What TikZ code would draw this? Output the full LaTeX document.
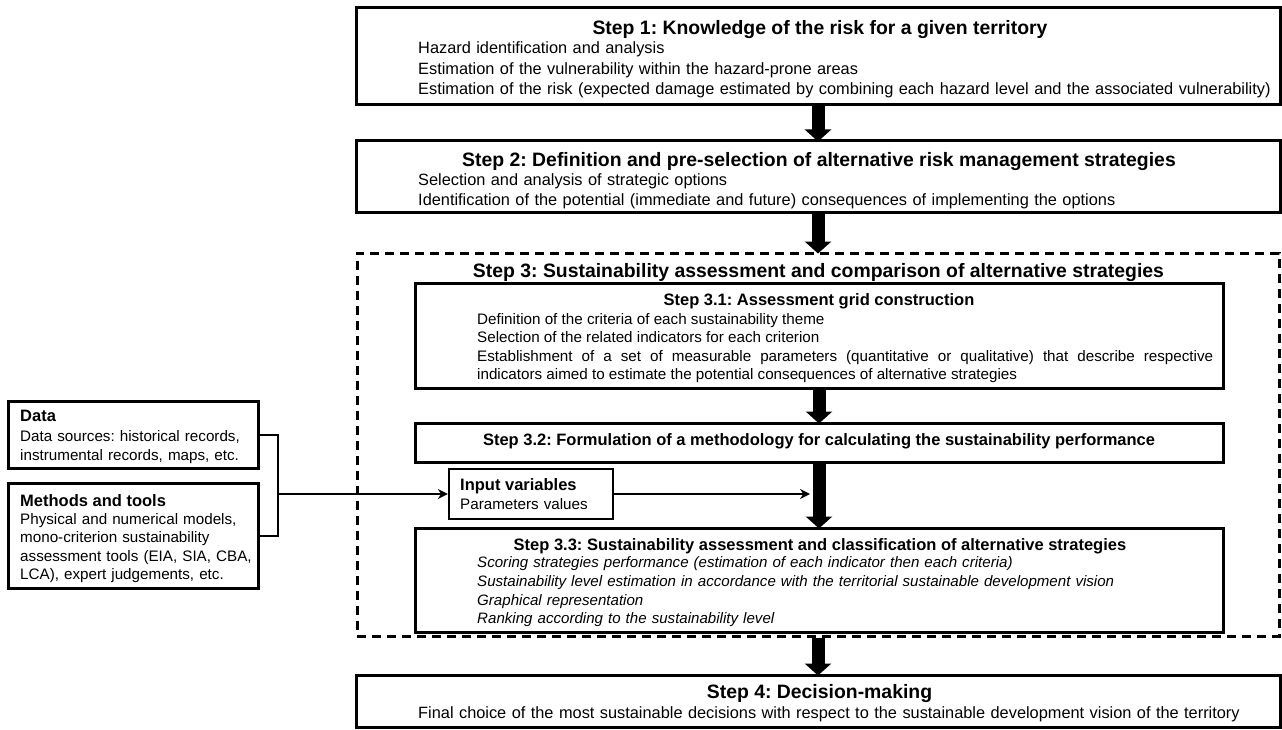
\documentclass[tikz,border=0pt]{standalone}
\usepackage{fontspec}
\setmainfont{Liberation Sans}
\usetikzlibrary{arrows.meta}
\frenchspacing

\begin{document}
\begin{tikzpicture}[x=1pt,y=-1pt]
\tikzstyle{box} = [draw,line width=3pt,inner sep=0pt]
\tikzstyle{dbox} = [draw,line width=3pt,dash pattern=on 9pt off 6pt,inner sep=0pt]
\tikzstyle{ibox} = [draw,line width=2.2pt,inner sep=0pt]
\tikzstyle{bigtitle} = [font=\fontsize{19.4}{23}\selectfont\bfseries,inner sep=0pt,anchor=base]
\tikzstyle{title} = [font=\fontsize{16.5}{20}\selectfont\bfseries,inner sep=0pt,anchor=base]
\tikzstyle{ltitle} = [font=\fontsize{16.5}{20}\selectfont\bfseries,inner sep=0pt,anchor=base west]
\tikzstyle{body} = [font=\fontsize{16.35}{20.5}\selectfont,align=left,anchor=base west,inner sep=0pt]
\tikzstyle{sbody} = [font=\fontsize{15.2}{18.5}\selectfont,align=left,anchor=base west,inner sep=0pt]
\tikzstyle{bigarrow} = [line width=13pt,-{Triangle[width=26pt,length=12pt]}]
\tikzstyle{link} = [line width=2pt,-{Stealth[length=10pt,width=10pt]}]

\useasboundingbox (0,0) rectangle (1282,730);

% main steps
\node[box,minimum width=924pt,minimum height=97pt] (s1) at (818,56.5) {};
\node[box,minimum width=924pt,minimum height=72pt] (s2) at (818,177) {};
\node[dbox,minimum width=922pt,minimum height=383pt] (s3) at (818,444.5) {};
\node[box,minimum width=808pt,minimum height=105pt] (s31) at (819,335.5) {};
\node[box,minimum width=808pt,minimum height=39pt] (s32) at (819,442.5) {};
\node[box,minimum width=808pt,minimum height=104pt] (s33) at (819,580) {};
\node[box,minimum width=924pt,minimum height=52pt] (s4) at (818,701) {};

\node[bigtitle] (t1) at (820,35) {Step 1: Knowledge of the risk for a given territory};
\node[body,text width=870pt] (b1) at (418,54) {Hazard identification and analysis\\
Estimation of the vulnerability within the hazard-prone areas\\
Estimation of the risk (expected damage estimated by combining each hazard level and the associated vulnerability)};

\node[bigtitle] (t2) at (819,166.5) {Step 2: Definition and pre-selection of alternative risk management strategies};
\node[body,text width=870pt] (b2) at (418,185.5) {Selection and analysis of strategic options\\
Identification of the potential (immediate and future) consequences of implementing the options};

\node[bigtitle] (t3) at (818.5,277) {Step 3: Sustainability assessment and comparison of alternative strategies};

\node[title] (t31) at (819,305) {Step 3.1: Assessment grid construction};
\node[sbody,text width=736pt,align=justify] (b31) at (477,324) {Definition of the criteria of each sustainability theme\\
Selection of the related indicators for each criterion\\
Establishment of a set of measurable parameters (quantitative or qualitative) that describe respective\linebreak
indicators aimed to estimate the potential consequences of alternative strategies};

\node[title] (t32) at (819,445) {Step 3.2: Formulation of a methodology for calculating the sustainability performance};

\node[title] (t33) at (820,550.5) {Step 3.3: Sustainability assessment and classification of alternative strategies};
\node[sbody,text width=740pt,font=\fontsize{15.1}{18.8}\selectfont\itshape] (b33) at (477,567.5) {Scoring strategies performance (estimation of each indicator then each criteria)\\
Sustainability level estimation in accordance with the territorial sustainable development vision\\
Graphical representation\\
Ranking according to the sustainability level};

\node[bigtitle] (t4) at (819.5,698) {Step 4: Decision-making};
\node[body,text width=850pt] (b4) at (418,718) {Final choice of the most sustainable decisions with respect to the sustainable development vision of the territory};

% inputs
\node[box,minimum width=250pt,minimum height=67pt] (data) at (133,434.5) {};
\node[ltitle] (tdata) at (20,421.7) {Data};
\node[sbody,text width=236pt] (bdata) at (20,441.7) {Data sources: historical records,\\
instrumental records, maps, etc.};

\node[box,minimum width=250pt,minimum height=105pt] (meth) at (133,535.5) {};
\node[ltitle] (tmeth) at (20,506) {Methods and tools};
\node[sbody,text width=236pt] (bmeth) at (20,524) {Physical and numerical models,\\
mono-criterion sustainability\\
assessment tools (EIA, SIA, CBA,\\
LCA), expert judgements, etc.};

\node[ibox,minimum width=164pt,minimum height=50pt] (inp) at (531,494) {};
\node[ltitle] (tinp) at (460,490.7) {Input variables};
\node[sbody,text width=150pt] (binp) at (460,509.3) {Parameters values};

% arrows
\draw[bigarrow] (s1.south) -- ([yshift=-2pt]s2.north);
\draw[bigarrow] (s2.south) -- ([yshift=-2pt]s3.north);
\draw[bigarrow] (s31.south) -- ([yshift=-2pt]s32.north);
\draw[bigarrow] (s32.south) -- ([yshift=-2pt]s33.north);
\draw[bigarrow] (s3.south) -- ([yshift=-2pt]s4.north);

\coordinate (brk) at (278,494);
\coordinate (hit) at (810,494);
\draw[line width=2pt] (data.east) -| (brk) |- (meth.east);
\draw[link] (brk) -- (inp.west);
\draw[link] (inp.east) -- (hit);
\end{tikzpicture}
\end{document}
